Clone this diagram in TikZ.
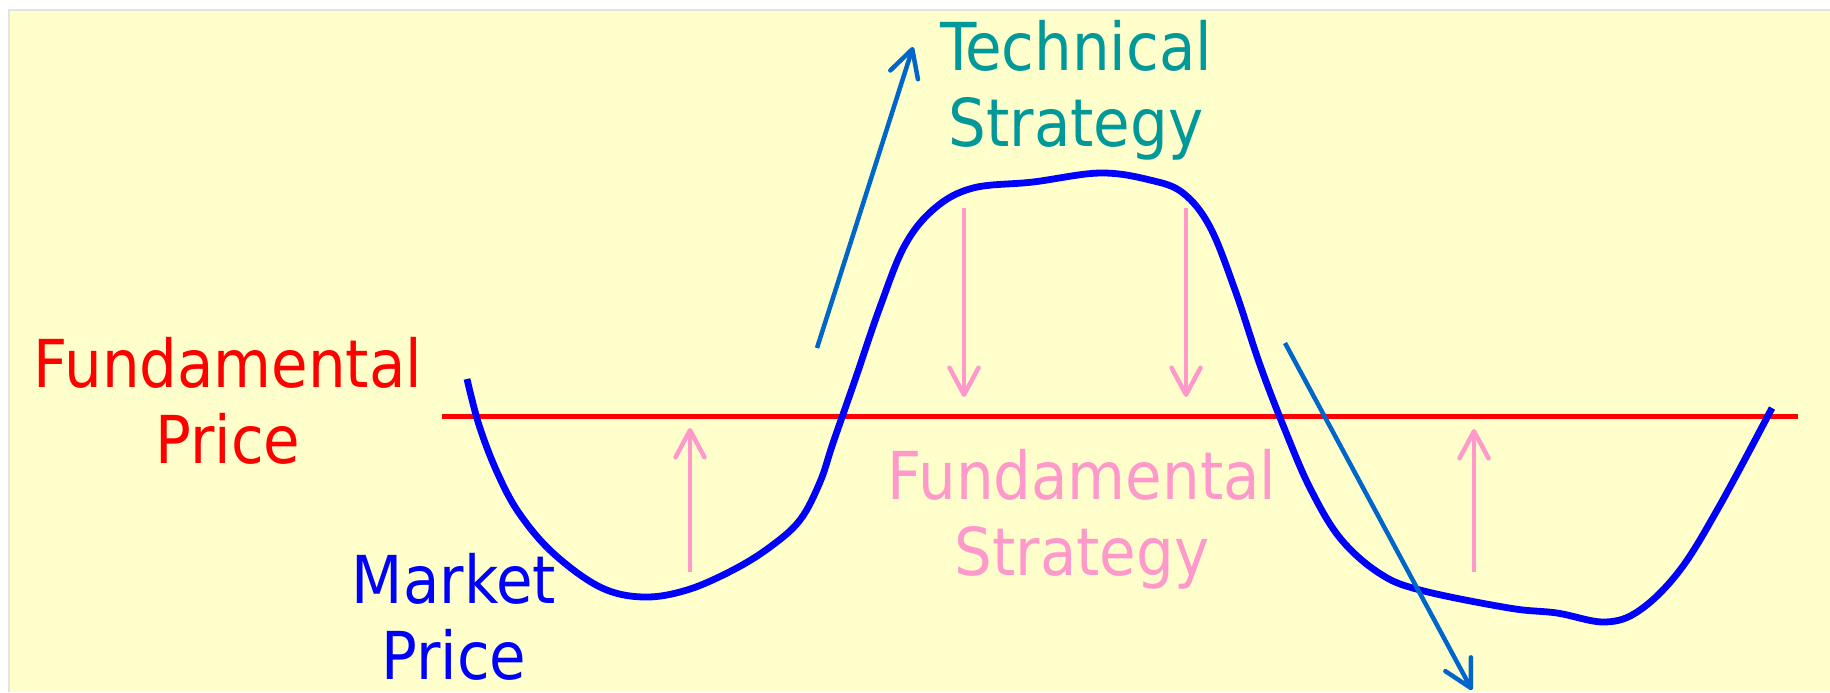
\documentclass[tikz,border=0pt]{standalone}
\usepackage{fontspec}
\setmainfont{DejaVu Sans Condensed}
\usepackage{xcolor}
\usepackage{tikz}
\usetikzlibrary{arrows.meta}
\definecolor{bgyellow}{HTML}{FFFFCC}
\definecolor{bgframe}{HTML}{E3E3E3}
\definecolor{mpblue}{HTML}{0000FF}
\definecolor{tsblue}{HTML}{0066CC}
\definecolor{tsteal}{HTML}{009999}
\definecolor{fspink}{HTML}{FF99CC}
\tikzset{
  pbg/.style={fill=bgyellow},
  pframe/.style={line width=0.015cm, draw=bgframe, line cap=butt},
  fpline/.style={line width=0.05cm, draw=red, line cap=butt},
  mpcurve/.style={line width=0.068cm, draw=mpblue, line cap=butt, line join=round},
  tsarrow/.style={line width=0.045cm, draw=tsblue, -{Straight Barb[length=0.27cm,width=0.29cm,round]}},
  fsarrow/.style={line width=0.045cm, draw=fspink, -{Straight Barb[length=0.27cm,width=0.29cm,round]}},
  plabel/.style={font=\fontsize{18.8}{21.5}\selectfont, align=center, inner sep=0pt, anchor=base},
}
\begin{document}
\begin{tikzpicture}
\useasboundingbox (0.000,0.000) rectangle (18.300,-6.920);
\fill[white] (0.000,0.000) rectangle (18.300,-6.920);
\fill[pbg] (0.090,-0.100) rectangle (18.300,-6.920);
\draw[pframe] (0.090,-6.920) -- (0.090,-0.100) -- (18.300,-0.100);
\draw[fpline] (4.420,-4.160) -- (17.980,-4.160);
\draw[mpcurve] plot[smooth, tension=0.6] coordinates {
  (4.670,-3.790) (4.790,-4.250) (4.970,-4.720) (5.190,-5.130) (5.530,-5.530)
  (6.000,-5.870) (6.430,-5.970) (6.870,-5.900) (7.330,-5.700) (7.700,-5.470)
  (8.000,-5.200) (8.200,-4.820) (8.330,-4.430) (8.550,-3.800) (8.800,-3.070)
  (9.050,-2.450) (9.350,-2.080) (9.730,-1.880) (10.330,-1.820) (11.000,-1.730)
  (11.500,-1.800) (11.830,-1.930) (12.100,-2.270) (12.350,-2.900) (12.600,-3.650)
  (12.850,-4.300) (13.100,-4.880) (13.400,-5.380) (13.790,-5.730) (14.200,-5.900)
  (15.090,-6.080) (15.570,-6.130) (16.050,-6.220) (16.400,-6.100) (16.800,-5.700)
  (17.200,-5.050) (17.720,-4.080)};
\draw[tsarrow] (8.170,-3.480) -- (9.130,-0.470);
\draw[tsarrow] (12.850,-3.430) -- (14.720,-6.900);
\draw[fsarrow] (6.900,-5.720) -- (6.900,-4.280);
\draw[fsarrow] (14.740,-5.720) -- (14.740,-4.290);
\draw[fsarrow] (9.640,-2.080) -- (9.640,-3.970);
\draw[fsarrow] (11.860,-2.080) -- (11.860,-3.970);
\node[plabel, text=red] (fprice) at (2.280,-4.630) {Fundamental\\Price};
\node[plabel, text=mpblue] (mprice) at (4.540,-6.790) {Market\\Price};
\node[plabel, text=fspink] (fstrat) at (10.820,-5.750) {Fundamental\\Strategy};
\node[plabel, text=tsteal] (tstrat) at (10.760,-1.460) {Technical\\Strategy};
\end{tikzpicture}
\end{document}
